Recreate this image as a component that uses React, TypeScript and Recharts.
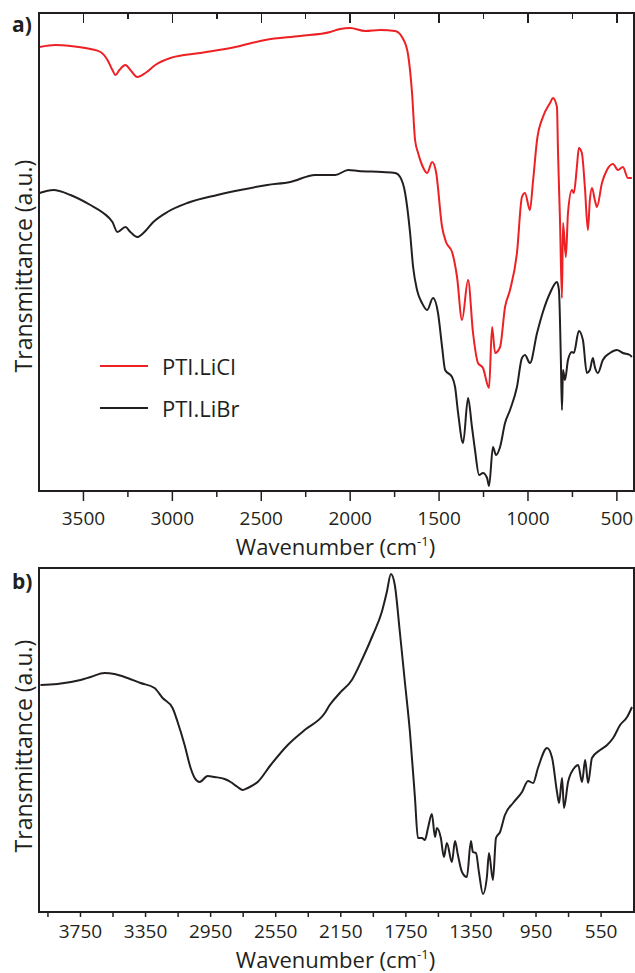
import React from "react";
import { Label, Legend, Line, LineChart, XAxis, YAxis } from "recharts";

const FONT = '"Open Sans", "Noto Sans", sans-serif';
const INK = "#231f20";
const RED = "#ed2024";

// a) FTIR of the two salts — [wavenumber (cm-1), transmittance (a.u.)]
const liclSpectrum: [number, number][] = [
  [3747, 444], [3657, 446], [3573, 445], [3461, 442], [3404, 439], [3365, 431],
  [3337, 421], [3320, 416], [3298, 421], [3264, 426], [3236, 421], [3197, 414],
  [3152, 418], [3096, 426], [3011, 433], [2843, 438], [2646, 444], [2478, 451],
  [2281, 455], [2112, 459], [2056, 462], [2000, 463], [1916, 460], [1831, 461],
  [1747, 460], [1702, 452], [1674, 436], [1652, 398], [1635, 351], [1618, 338],
  [1596, 326], [1567, 318], [1539, 329], [1517, 319], [1483, 264], [1461, 249],
  [1427, 239], [1399, 214], [1371, 171], [1337, 211], [1309, 158], [1281, 128],
  [1253, 123], [1219, 103], [1202, 164], [1185, 138], [1157, 144], [1129, 184],
  [1101, 201], [1062, 238], [1034, 294], [1017, 298], [989, 281], [972, 309],
  [949, 351], [916, 374], [876, 388], [860, 393], [837, 384], [831, 338],
  [820, 271], [809, 193], [803, 268], [787, 234], [775, 278], [753, 301],
  [742, 298], [725, 324], [714, 343], [697, 338], [680, 304], [663, 261],
  [652, 291], [640, 303], [624, 291], [612, 284], [584, 308], [556, 321],
  [522, 327], [494, 321], [466, 324], [438, 313], [416, 313],
];

const librSpectrum: [number, number][] = [
  [3747, 298], [3669, 301], [3573, 296], [3461, 286], [3388, 278], [3337, 269],
  [3309, 259], [3264, 264], [3236, 259], [3197, 254], [3163, 258], [3107, 269],
  [3028, 279], [2916, 288], [2747, 296], [2618, 301], [2466, 306], [2337, 309],
  [2197, 316], [2084, 316], [2011, 321], [1955, 320], [1820, 319], [1747, 318],
  [1719, 314], [1691, 298], [1663, 258], [1646, 224], [1624, 201], [1596, 188],
  [1567, 181], [1534, 193], [1506, 178], [1483, 144], [1466, 121], [1427, 114],
  [1410, 104], [1393, 78], [1365, 48], [1337, 93], [1315, 64], [1298, 41],
  [1275, 16], [1253, 18], [1230, 13], [1219, 5], [1197, 44], [1180, 36],
  [1157, 44], [1129, 68], [1101, 81], [1062, 104], [1034, 133], [1017, 136],
  [989, 128], [949, 158], [916, 179], [876, 198], [837, 209], [826, 201],
  [815, 131], [809, 81], [803, 121], [792, 111], [775, 131], [753, 139],
  [742, 138], [714, 160], [691, 151], [669, 118], [652, 121], [635, 133],
  [624, 124], [607, 118], [579, 131], [539, 138], [500, 141], [466, 138],
  [427, 136], [416, 134],
];

// b) single spectrum
const bSpectrum: [number, number][] = [
  [3996, 227], [3892, 228], [3750, 232], [3688, 235], [3602, 239], [3541, 238],
  [3461, 234], [3381, 229], [3295, 224], [3245, 214], [3184, 204], [3153, 190],
  [3110, 167], [3073, 144], [3048, 134], [3018, 130], [2968, 136], [2925, 135],
  [2864, 133], [2827, 130], [2784, 125], [2753, 122], [2722, 124], [2661, 130],
  [2581, 147], [2476, 167], [2372, 182], [2248, 199], [2218, 207], [2156, 219],
  [2082, 232], [2015, 254], [1953, 277], [1898, 300], [1867, 320], [1842, 338],
  [1818, 327], [1787, 280], [1756, 230], [1725, 180], [1694, 114], [1676, 74],
  [1651, 74], [1633, 72], [1614, 84], [1590, 98], [1571, 75], [1559, 84],
  [1535, 74], [1516, 55], [1498, 69], [1467, 50], [1448, 71], [1430, 57],
  [1405, 40], [1375, 35], [1350, 71], [1338, 60], [1319, 59], [1301, 40],
  [1276, 18], [1252, 35], [1239, 59], [1215, 32], [1196, 74], [1171, 80],
  [1141, 97], [1091, 109], [1036, 120], [999, 131], [968, 129], [938, 144],
  [882, 164], [851, 154], [821, 120], [808, 109], [790, 134], [778, 104],
  [753, 130], [710, 145], [691, 147], [667, 130], [648, 152], [630, 129],
  [606, 154], [556, 162], [513, 167], [476, 174], [433, 187], [390, 195],
  [360, 205],
];

const aTicks = [3500, 3250, 3000, 2750, 2500, 2250, 2000, 1750, 1500, 1250, 1000, 750, 500];
const aLabels = [3500, 3000, 2500, 2000, 1500, 1000, 500];
const bTicks = [3950, 3750, 3550, 3350, 3150, 2950, 2750, 2550, 2350, 2150, 1950, 1750, 1550, 1350, 1150, 950, 750, 550];
const bLabels = [3750, 3350, 2950, 2550, 2150, 1750, 1350, 950, 550];

const legendItems = [
  { name: "PTI.LiCl", color: RED },
  { name: "PTI.LiBr", color: INK },
];

const toPoints = (s: [number, number][]) => s.map(([wn, t]) => ({ wn, t }));

const A_DOMAIN: [number, number] = [415, 3750];
const A_YMAX = 478;
const B_DOMAIN: [number, number] = [360, 4005];
const B_YMAX = 344;

// plot boxes in page pixels (follow from the chart sizes and margins below)
const PLOT_LEFT = 39;
const PLOT_WIDTH = 593;
const A_TOP = 13;
const B_TOP = 568;

const frame = { stroke: INK, strokeWidth: 1.6 };

// tick lines drawn here so major/minor can differ in length
const axisTick =
  (labels: number[], majorLen: number, minorLen: number, labelDy: number) =>
  (props: any) => {
    const { x, y, payload } = props;
    const major = labels.includes(payload.value);
    return (
      <g>
        <line x1={x} x2={x} y1={y} y2={y + (major ? majorLen : minorLen)} stroke={INK} strokeWidth={1.5} />
        {major && (
          <text x={x} y={y + labelDy} textAnchor="middle" fontFamily={FONT} fontSize={19} fill={INK}>
            {payload.value}
          </text>
        )}
      </g>
    );
  };

const xTitle = (dy: number) => (props: any) => {
  const vb = props.viewBox || { x: 39, y: 0, width: 593 };
  return (
    <text x={vb.x + vb.width / 2} y={vb.y + dy} textAnchor="middle" fontFamily={FONT} fontSize={22} fill={INK}>
      Wavenumber (cm
      <tspan dy={-9} fontSize={13}>-1</tspan>
      <tspan dy={9}>)</tspan>
    </text>
  );
};

const yTitle = (shift: number) => (props: any) => {
  const vb = props.viewBox || { x: 38, y: 0, height: 400 };
  const cx = 32;
  const cy = vb.y + vb.height / 2 + shift;
  return (
    <text
      x={cx}
      y={cy}
      transform={`rotate(-90 ${cx} ${cy})`}
      textAnchor="middle"
      fontFamily={FONT}
      fontSize={23}
      fill={INK}
    >
      Transmittance (a.u.)
    </text>
  );
};

const LegendBox = () => (
  <div style={{ fontFamily: FONT, fontSize: 22, color: INK }}>
    {legendItems.map((it) => (
      <div key={it.name} style={{ display: "flex", alignItems: "center", height: 42 }}>
        <div style={{ width: 48, height: 2, background: it.color, marginRight: 14 }} />
        <span>{it.name}</span>
      </div>
    ))}
  </div>
);

const panelTag = (text: string, top: number) => (
  <div
    style={{
      position: "absolute",
      left: 12,
      top,
      fontFamily: FONT,
      fontWeight: 700,
      fontSize: 21,
      lineHeight: "21px",
      color: INK,
    }}
  >
    {text}
  </div>
);

// box outlines + the inward top ticks of panel a, as plain html on top
function Frames() {
  const topTickX = (v: number) =>
    PLOT_LEFT + ((A_DOMAIN[1] - v) / (A_DOMAIN[1] - A_DOMAIN[0])) * PLOT_WIDTH;
  const box = (top: number, height: number) => ({
    position: "absolute" as const,
    left: PLOT_LEFT - 1,
    top: top - 1,
    width: PLOT_WIDTH,
    height,
    border: `2px solid ${INK}`,
    boxSizing: "content-box" as const,
    zIndex: 10,
    pointerEvents: "none" as const,
  });
  return (
    <>
      <div style={box(A_TOP, A_YMAX - 2)} />
      <div style={box(B_TOP, B_YMAX - 2)} />
      {aTicks.map((v) => (
        <div
          key={v}
          style={{
            position: "absolute",
            left: topTickX(v) - 0.75,
            top: A_TOP,
            width: 1.5,
            height: aLabels.includes(v) ? 10 : 6,
            background: INK,
            zIndex: 10,
          }}
        />
      ))}
    </>
  );
}

function PanelA() {
  return (
    <LineChart width={635} height={560} margin={{ top: A_TOP, right: 3, bottom: 0, left: 38 }}>
      <XAxis
        xAxisId="bottom"
        type="number"
        dataKey="wn"
        domain={A_DOMAIN}
        reversed
        ticks={aTicks}
        interval={0}
        tickSize={0}
        tickMargin={0}
        tickLine={false}
        tick={axisTick(aLabels, 10, 6, 34)}
        axisLine={frame}
        height={69}
      >
        <Label content={xTitle(64)} />
      </XAxis>
      <YAxis yAxisId="left" type="number" domain={[0, A_YMAX]} width={1} tick={false} tickLine={false} axisLine={false}>
        <Label content={yTitle(14)} />
      </YAxis>
      <Line
        xAxisId="bottom"
        yAxisId="left"
        data={toPoints(liclSpectrum)}
        dataKey="t"
        name="PTI.LiCl"
        type="monotone"
        stroke={RED}
        strokeWidth={2}
        dot={false}
        isAnimationActive={false}
      />
      <Line
        xAxisId="bottom"
        yAxisId="left"
        data={toPoints(librSpectrum)}
        dataKey="t"
        name="PTI.LiBr"
        type="monotone"
        stroke={INK}
        strokeWidth={2}
        dot={false}
        isAnimationActive={false}
      />
      <Legend
        layout="horizontal"
        verticalAlign="middle"
        align="center"
        content={() => <LegendBox />}
        wrapperStyle={{ position: "absolute", left: 100, top: 345, width: 200 }}
      />
    </LineChart>
  );
}

function PanelB() {
  return (
    <LineChart width={635} height={413} margin={{ top: B_TOP - 560, right: 3, bottom: 0, left: 38 }}>
      <XAxis
        xAxisId="bottom"
        type="number"
        dataKey="wn"
        domain={B_DOMAIN}
        reversed
        ticks={bTicks}
        interval={0}
        tickSize={0}
        tickMargin={0}
        tickLine={false}
        tick={axisTick(bLabels, 5, 5, 26)}
        axisLine={frame}
        height={61}
      >
        <Label content={xTitle(56)} />
      </XAxis>
      <YAxis yAxisId="left" type="number" domain={[0, B_YMAX]} width={1} tick={false} tickLine={false} axisLine={false}>
        <Label content={yTitle(6)} />
      </YAxis>
      <Line
        xAxisId="bottom"
        yAxisId="left"
        data={toPoints(bSpectrum)}
        dataKey="t"
        type="monotone"
        stroke={INK}
        strokeWidth={2}
        dot={false}
        isAnimationActive={false}
      />
    </LineChart>
  );
}

export default function App() {
  return (
    <div style={{ position: "absolute", left: 0, top: 0, width: 635, height: 973, background: "#fff" }}>
      <PanelA />
      <div style={{ position: "absolute", left: 0, top: 560 }}>
        <PanelB />
      </div>
      <Frames />
      {panelTag("a)", 14)}
      {panelTag("b)", 571)}
    </div>
  );
}
